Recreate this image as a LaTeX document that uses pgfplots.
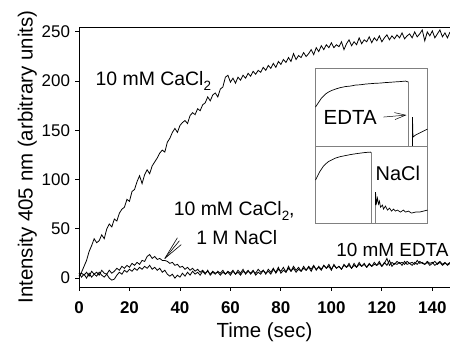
\documentclass[border=0pt]{standalone}
\usepackage{pgfplots}
\pgfplotsset{compat=1.18}
\usepackage{fontspec}
\setmainfont{Liberation Sans}
\usetikzlibrary{arrows.meta}
\newcommand{\sub}[1]{\raisebox{-0.28em}{\fontsize{13.5}{14}\selectfont #1}}
\begin{document}
\begin{tikzpicture}
\begin{axis}[
  name=main,
  scale only axis, width=371bp, height=260bp,
  xmin=0, xmax=147, ymin=-9, ymax=255,
  axis x line=box, axis y line=left,
  axis line style={line width=0.9pt,-},
  xtick={0,20,...,140}, ytick={0,50,...,250},
  xtick pos=bottom, ytick pos=left,
  tick align=outside, major tick length=3.5bp,
  tick style={line width=0.9pt,black},
  /pgf/number format/assume math mode=true,
  xticklabel style={font=\fontsize{17}{18}\selectfont\bfseries, yshift=-8bp},
  yticklabel style={font=\fontsize{17}{18}\selectfont, xshift=-2bp},
  xlabel={Time (sec)}, ylabel={Intensity 405 nm (arbitrary units)},
  label style={font=\fontsize{20.5}{22}\selectfont},
  xlabel style={yshift=-2bp},
  ylabel style={yshift=-2bp},
  clip=false,
]
\addplot[black, line width=0.8pt] coordinates {
(0,2)(1,6)(2,12)(3,18)(4,27)(5,33)(6,40)(7,36)(8,38)(9,44)(10,40)(11,50)(12,55)(13,52)(14,60)(15,58)(16,66)(17,70)(18,72)(19,80)(20,78)(21,88)(22,90)(23,98)(24,104)(25,96)(26,105)(27,110)(28,106)(29,114)(30,118)(31,122)(32,127)(33,130)(34,128)(35,138)(36,142)(37,148)(38,152)(39,148)(40,155)(41,158)(42,160)(43,157)(44,165)(45,168)(46,166)(47,172)(48,170)(49,176)(50,178)(51,184)(52,180)(53,186)(54,188)(55,184)(56,192)(57,194)(58,204)(59,206)(60,199)(61,203)(62,198)(63,204)(64,201)(65,206)(66,203)(67,208)(68,205)(69,210)(70,207)(71,211)(72,209)(73,214)(74,211)(75,216)(76,213)(77,218)(78,214)(79,220)(80,217)(81,222)(82,219)(83,224)(84,220)(85,228)(86,222)(87,226)(88,224)(89,229)(90,225)(91,228)(92,232)(93,227)(94,234)(95,230)(96,236)(97,232)(98,237)(99,234)(100,239)(101,234)(102,237)(103,235)(104,240)(105,232)(106,238)(107,242)(108,236)(109,240)(110,237)(111,244)(112,238)(113,242)(114,240)(115,245)(116,239)(117,244)(118,241)(119,246)(120,240)(121,244)(122,247)(123,242)(124,246)(125,243)(126,247)(127,244)(128,249)(129,243)(130,246)(131,248)(132,244)(133,250)(134,245)(135,248)(136,252)(137,241)(138,250)(139,246)(140,251)(141,244)(142,248)(143,252)(144,245)(145,249)(146,244)(147,250)
};
\addplot[black, line width=0.8pt] coordinates {
(0,2)(1,5)(2,3)(3,6)(4,2)(5,7)(6,4)(7,6)(8,3)(9,8)(10,5)(11,4)(12,8)(13,5)(14,7)(15,10)(16,8)(17,12)(18,10)(19,13)(20,11)(21,15)(22,13)(23,16)(24,14)(25,18)(26,17)(27,22)(28,24)(29,20)(30,22)(31,19)(32,20)(33,18)(34,18)(35,17)(36,15)(37,16)(38,13)(39,14)(40,11)(41,12)(42,9)(43,11)(44,8)(45,10)(46,7)(47,9)(48,6)(49,8)(50,5)(51,7)(52,4)(53,7)(54,5)(55,6)(56,3)(57,6)(58,4)(59,7)(60,5)(61,8)(62,4)(63,6)(64,3)(65,7)(66,5)(67,8)(68,4)(69,7)(70,5)(71,9)(72,6)(73,8)(74,4)(75,9)(76,6)(77,10)(78,5)(79,9)(80,7)(81,11)(82,6)(83,10)(84,7)(85,12)(86,8)(87,11)(88,7)(89,10)(90,8)(91,12)(92,9)(93,13)(94,8)(95,12)(96,9)(97,13)(98,10)(99,14)(100,9)(101,13)(102,10)(103,12)(104,9)(105,14)(106,11)(107,13)(108,10)(109,15)(110,11)(111,14)(112,12)(113,15)(114,11)(115,14)(116,12)(117,16)(118,13)(119,15)(120,12)(121,16)(122,13)(123,18)(124,12)(125,15)(126,14)(127,16)(128,13)(129,17)(130,14)(131,15)(132,13)(133,16)(134,14)(135,17)(136,15)(137,14)(138,16)(139,13)(140,15)(141,17)(142,14)(143,16)(144,13)(145,15)(146,14)(147,16)
};
\addplot[black, line width=0.8pt] coordinates {
(0,5)(1,1)(2,4)(3,0)(4,5)(5,1)(6,4)(7,2)(8,6)(9,3)(10,1)(11,4)(12,0)(13,-2)(14,-1)(15,3)(16,6)(17,4)(18,8)(19,6)(20,9)(21,7)(22,10)(23,8)(24,11)(25,9)(26,12)(27,10)(28,13)(29,9)(30,11)(31,8)(32,10)(33,6)(34,8)(35,4)(36,2)(37,4)(38,0)(39,3)(40,1)(41,5)(42,2)(43,6)(44,3)(45,7)(46,4)(47,6)(48,3)(49,7)(50,4)(51,8)(52,3)(53,6)(54,4)(55,7)(56,5)(57,8)(58,4)(59,6)(60,3)(61,7)(62,4)(63,8)(64,5)(65,9)(66,4)(67,7)(68,5)(69,8)(70,3)(71,6)(72,4)(73,8)(74,5)(75,7)(76,4)(77,9)(78,6)(79,11)(80,5)(81,8)(82,6)(83,12)(84,7)(85,10)(86,6)(87,9)(88,7)(89,12)(90,8)(91,11)(92,7)(93,12)(94,9)(95,11)(96,8)(97,13)(98,10)(99,12)(100,8)(101,14)(102,10)(103,12)(104,9)(105,13)(106,11)(107,15)(108,10)(109,13)(110,11)(111,16)(112,12)(113,14)(114,11)(115,15)(116,12)(117,14)(118,13)(119,17)(120,12)(121,15)(122,20)(123,13)(124,16)(125,14)(126,17)(127,15)(128,16)(129,14)(130,17)(131,15)(132,16)(133,14)(134,18)(135,15)(136,16)(137,14)(138,17)(139,15)(140,16)(141,13)(142,15)(143,17)(144,14)(145,16)(146,13)(147,15)
};
\node[font=\fontsize{19.5}{21}\selectfont, anchor=west, inner sep=0pt] at (axis cs:6.5,200) {10 mM CaCl\sub{2}};
\node[font=\fontsize{19.5}{21}\selectfont, anchor=center] at (axis cs:61.5,68) {10 mM CaCl\sub{2},};
\node[font=\fontsize{19.5}{21}\selectfont, anchor=center] at (axis cs:62.5,41) {1 M NaCl};
\node[font=\fontsize{19}{21}\selectfont, anchor=east, inner sep=0pt] at (axis cs:146.5,29) {10 mM EDTA};
\draw[black, line width=0.6pt] (axis cs:39,41) -- (axis cs:34,20);
\draw[black, line width=0.6pt] (axis cs:40.5,34) -- (axis cs:34,20);
\draw[black, line width=0.6pt] (axis cs:39.8,38) -- (axis cs:34,20);
\coordinate (O) at (rel axis cs:0,0);
\coordinate (insB) at (axis cs:93.7,55.9);
\coordinate (insA) at (axis cs:93.7,134.1);
\end{axis}
\begin{axis}[
  at={(insA)}, anchor=south west,
  scale only axis, width=112bp, height=78bp,
  xmin=0, xmax=112, ymin=0, ymax=78,
  ticks=none, axis line style={gray, line width=0.8pt},
  clip=false,
]
\addplot[black, line width=0.7pt] coordinates {
(0,39)(2,42)(4,45)(6,48)(8,50)(10,52)(13,54)(16,55.5)(20,57)(25,58.5)(30,59.5)(35,60)(40,61)(45,61.3)(50,62)(55,62.4)(60,62.8)(65,63)(70,63.5)(75,63.8)(80,64.2)(85,64.5)(90,65)(93,64)
};
\addplot[gray, line width=0.8pt] coordinates {(93,64)(93,0)};
\addplot[black, line width=0.7pt] coordinates {(97,0)(97,29)(97.5,9)(100,11)(104,13)(108,15)(112,17)};
\node[font=\fontsize{20.5}{22}\selectfont, anchor=west, inner sep=0pt] at (axis cs:8,29) {EDTA};
\draw[black, line width=0.5pt, -{Straight Barb[length=11bp,width=7bp]}] (axis cs:68,29) -- (axis cs:91,31);
\end{axis}
\begin{axis}[
  at={(insB)}, anchor=south west,
  scale only axis, width=112bp, height=77bp,
  xmin=0, xmax=112, ymin=0, ymax=77,
  ticks=none, axis line style={gray, line width=0.8pt},
  clip=false,
]
\addplot[black, line width=0.7pt] coordinates {
(0,43)(2,47)(4,51)(6,54)(8,57)(10,59)(13,61.5)(16,63)(20,65)(25,66.5)(30,67.5)(35,68.5)(40,69.3)(45,70)(50,70.6)(55,71)(56,70)
};
\addplot[gray, line width=0.8pt] coordinates {(56,70)(56,0)};
\addplot[gray, line width=0.8pt] coordinates {(60,0)(60,18)};
\addplot[black, line width=0.7pt] coordinates {(60,18)(60,31)(61,20)(62,25)(63,19)(64,22)(65,16)(67,18)(68,14)(70,17)(72,13)(74,15)(76,12)(78,14)(80,12)(82,13)(85,11)(88,13)(90,11)(93,12)(96,10)(100,11)(104,11)(108,12)(112,13)};
\node[font=\fontsize{20}{22}\selectfont, anchor=west, inner sep=0pt] at (axis cs:60,50) {NaCl};
\end{axis}
\pgfresetboundingbox
\path[use as bounding box] (O) ++(-79bp,-61bp) rectangle ++(450bp,348bp);
\end{tikzpicture}
\end{document}
